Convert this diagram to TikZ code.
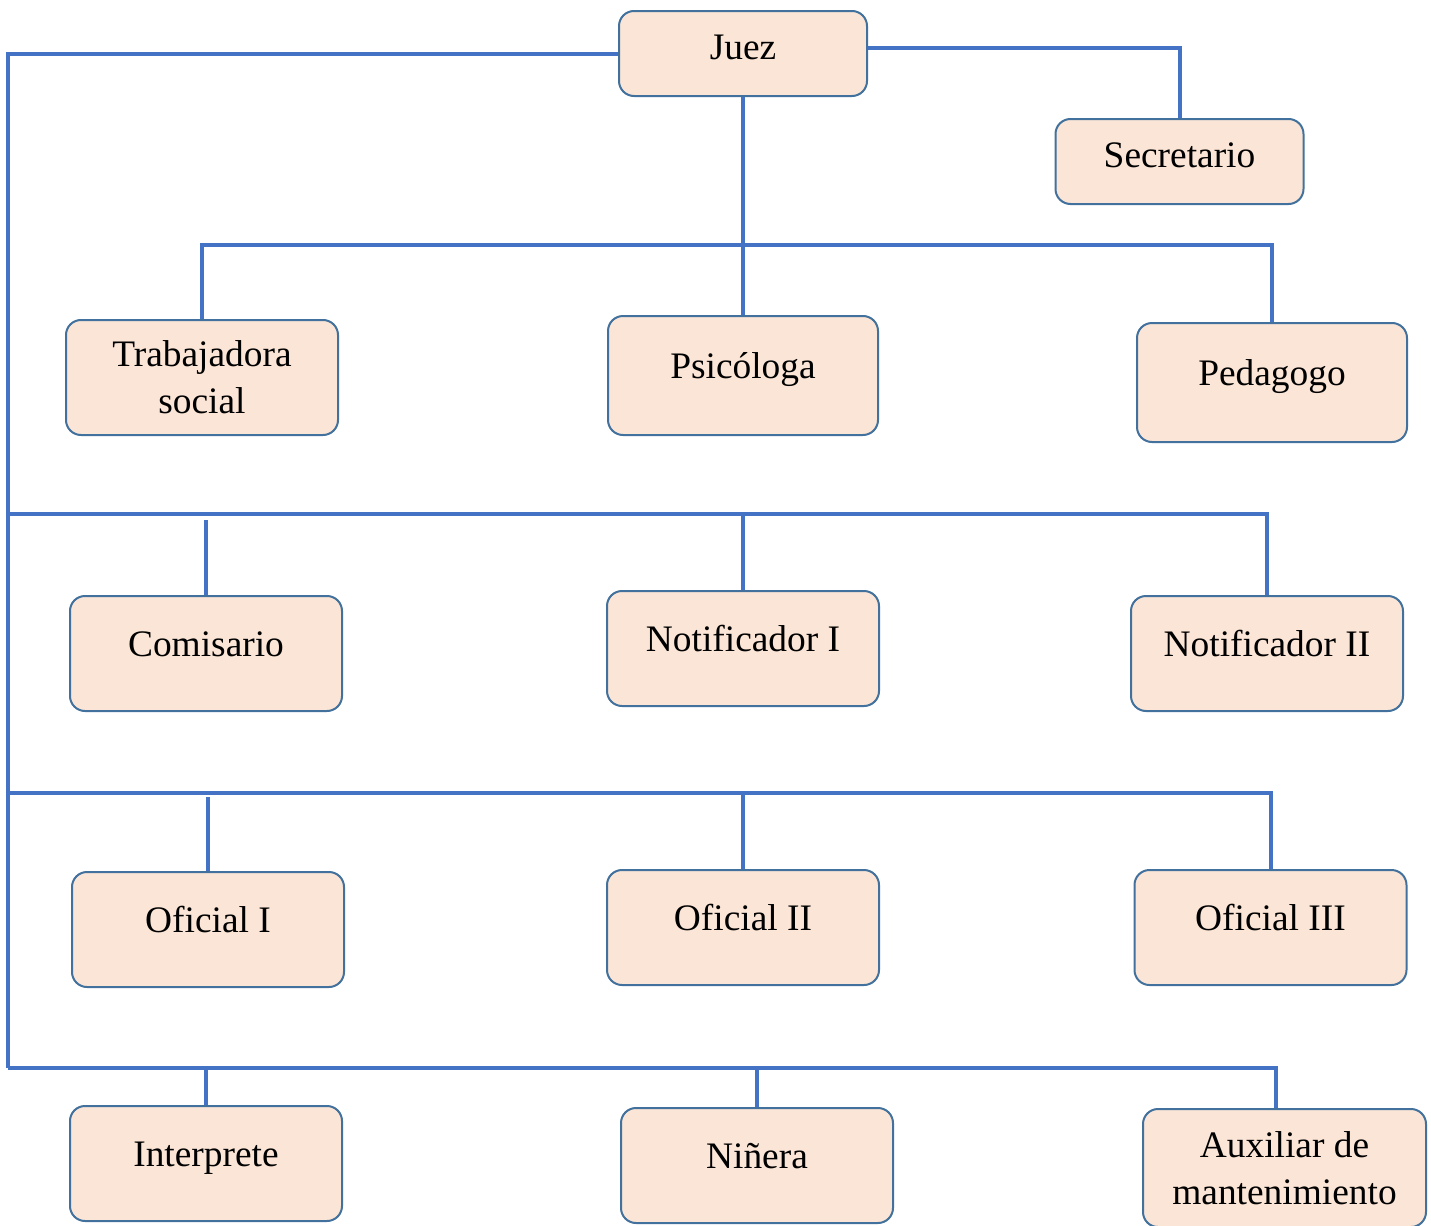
\documentclass[tikz,border=0pt]{standalone}
\usepackage{fontspec}
\setmainfont{Liberation Serif}
\usetikzlibrary{calc}
\definecolor{azul}{HTML}{4472C4}
\definecolor{borde}{HTML}{41719C}
\definecolor{salmon}{HTML}{FBE5D6}
\tikzset{
	puesto/.style={draw=borde, fill=salmon, line width=1pt, rounded corners=7.5pt, minimum width=136pt, minimum height=57.5pt, font=\fontsize{18.7}{23.5}\selectfont, align=center},
	uno/.style={text height=13pt, text depth=10pt},
	enlace/.style={draw=azul, line width=2pt}
}

\begin{document}
\begin{tikzpicture}[x=0.5pt, y=-0.5pt]
			%%%%% START %%%%%
			\useasboundingbox (0, 0) rectangle (1431, 1226);
			
			\node[puesto, text height=13pt, text depth=7pt, minimum width=124pt, minimum height=42.5pt] (juez) at (743, 53.5) {Juez};
			\node[puesto, text height=13pt, text depth=7pt, minimum width=124pt, minimum height=42.5pt] (secretario) at (1179.5, 161.5) {Secretario};
			
			\node[puesto] (trabajadora) at (202, 377.5) {Trabajadora\\social};
			\node[puesto, uno, minimum width=135pt, minimum height=59.5pt] (psicologa) at (743, 375.5) {Psicóloga};
			\node[puesto, uno, minimum width=135pt, minimum height=59.5pt] (pedagogo) at (1272, 382.5) {Pedagogo};
			
			\node[puesto, uno] (comisario) at (206, 653.5) {Comisario};
			\node[puesto, uno] (notif1) at (743, 648.5) {Notificador I};
			\node[puesto, uno] (notif2) at (1267, 653.5) {Notificador II};
			
			\node[puesto, uno] (oficial1) at (208, 929.5) {Oficial I};
			\node[puesto, uno] (oficial2) at (743, 927.5) {Oficial II};
			\node[puesto, uno] (oficial3) at (1270.5, 927.5) {Oficial III};
			
			\node[puesto, uno] (interprete) at (206, 1163.5) {Interprete};
			\node[puesto, uno] (ninera) at (757, 1165.5) {Niñera};
			\node[puesto, minimum width=141.5pt, minimum height=59pt] (auxiliar) at (1284.5, 1168) {Auxiliar de\\mantenimiento};
			
			% tronco izquierdo
			\coordinate (t0) at (8, 53.5);
			\coordinate (t1) at (8, 514);
			\coordinate (t2) at (8, 793);
			\coordinate (t3) at (8, 1068);
			\draw[enlace] (juez.west) -- (t0) -- (t3);
			
			\draw[enlace] ($(juez.east)+(0, -6)$) -| (secretario.north);
			\draw[enlace] (juez.south) -- (psicologa.north);
			
			\coordinate (b1) at (743, 245);
			\draw[enlace] (trabajadora.north) |- (b1) -| (pedagogo.north);
			
			\coordinate (g1) at (206, 520);
			\draw[enlace] (t1) -| (notif2.north);
			\draw[enlace] (notif1.north) -- (notif1.north |- t1);
			\draw[enlace] (comisario.north) -- (g1);
			
			\coordinate (g2) at (208, 797);
			\draw[enlace] (t2) -| (oficial3.north);
			\draw[enlace] (oficial2.north) -- (oficial2.north |- t2);
			\draw[enlace] (oficial1.north) -- (g2);
			
			\coordinate (aux) at ($(auxiliar.north)+(-9, 0)$);
			\draw[enlace] (t3) -| (aux);
			\draw[enlace] (ninera.north) -- (ninera.north |- t3);
			\draw[enlace] (interprete.north) -- (interprete.north |- t3);
			
			%%%%% END %%%%%
		\end{tikzpicture}
\end{document}
